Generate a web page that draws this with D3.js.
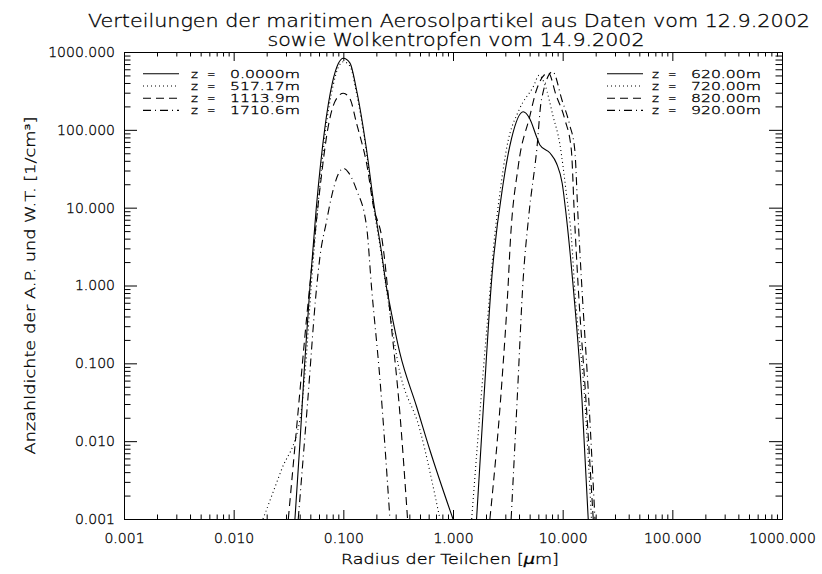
<!DOCTYPE html>
<html>
<head>
<meta charset="utf-8">
<script src="https://cdn.jsdelivr.net/npm/d3@7"></script>
<style>
  body { margin: 0; background: #fff; }
  text { font-family: "DejaVu Sans", sans-serif; font-weight: 200; fill: #000; stroke: #000; stroke-width: 0.3px; }
</style>
</head>
<body>
<svg id="chart" width="822" height="574"></svg>
<script>
// ---- text -------------------------------------------------------------
const titleLines = [
  "Verteilungen der maritimen Aerosolpartikel aus Daten vom 12.9.2002",
  "sowie Wolkentropfen vom 14.9.2002"
];
const xTitle = "Radius der Teilchen [";
const yTitle = "Anzahldichte der A.P. und W.T. [1/cm³]";

// ---- axis ticks -------------------------------------------------------
const xTickValues = [0.001, 0.01, 0.1, 1, 10, 100, 1000];
const xTickLabels = ["0.001", "0.010", "0.100", "1.000", "10.000", "100.000", "1000.000"];
const yTickValues = [0.001, 0.01, 0.1, 1, 10, 100, 1000];
const yTickLabels = ["0.001", "0.010", "0.100", "1.000", "10.000", "100.000", "1000.000"];

// ---- legend labels (heights) -----------------------------------------
const aerosolHeights = ["0.0000m", "517.17m", "1113.9m", "1710.6m"];
const dropHeights    = ["620.00m", "720.00m", "820.00m", "920.00m"];

// ---- aerosol particle spectra, 12.9.2002: [radius µm, number density 1/cm³]
const aerosol0000 = [[0.0362,0.001],[0.0403,0.01],[0.0444,0.1],[0.0497,1],[0.0567,10],[0.0675,100],
  [0.0794,400],[0.09,710],[0.1,830],[0.115,720],[0.132,325],[0.163,55],[0.1875,12.6],[0.2235,2.6],
  [0.248,0.93],[0.262,0.62],[0.328,0.135],[0.466,0.0277],[0.615,0.0077],[1.0,0.001]];
const aerosol0517 = [[0.0185,0.001],[0.0273,0.0043],[0.0402,0.0187],[0.0455,0.1],[0.051,1],[0.0585,10],
  [0.069,100],[0.081,380],[0.091,660],[0.1,750],[0.115,660],[0.131,310],[0.162,53],[0.186,12],
  [0.222,2.5],[0.25,0.8],[0.315,0.1],[0.5,0.0139],[0.76,0.001]];
const aerosol1114 = [[0.0315,0.001],[0.0382,0.0198],[0.0464,0.4],[0.053,2.6],[0.061,16.9],[0.0728,110],
  [0.085,240],[0.1,295],[0.115,250],[0.132,121],[0.163,37],[0.194,8.5],[0.205,6.8],[0.222,4.5],
  [0.235,2.5],[0.266,0.45],[0.328,0.0226],[0.385,0.001]];
const aerosol1711 = [[0.0388,0.001],[0.0471,0.03],[0.057,0.93],[0.0612,2.34],[0.07,6.5],[0.078,13.8],
  [0.09,27],[0.1,32],[0.112,28],[0.132,16.9],[0.163,5.7],[0.181,0.93],[0.216,0.061],[0.266,0.001]];

// ---- cloud droplet spectra, 14.9.2002 ---------------------------------
const drops620 = [[1.64,0.001],[1.9,0.03],[2.25,1.18],[2.87,20.6],[3.42,77.8],[4.36,171],[5.0,140],
  [5.78,81.6],[6.2,64],[7.7,50],[8.8,37],[9.9,20.6],[10.8,7.7],[12.4,1.06],[15.0,0.034],[17.1,0.001]];
const drops720 = [[1.48,0.001],[1.88,0.0745],[2.15,0.72],[2.33,2.85],[2.7,16.9],[3.1,60.5],[4.0,180],
  [5.4,359],[6.1,502],[6.9,377],[8.2,147],[9.4,67],[10.8,15.3],[12.0,4.2],[12.9,0.88],[15.9,0.034],[18.3,0.001]];
const drops820 = [[2.17,0.001],[2.8,0.0617],[3.2,1.18],[3.3,2.85],[3.93,33.6],[5.0,147],[5.77,325],
  [7.4,540],[8.7,280],[10.5,134],[12.0,55],[12.8,7.7],[13.8,1.06],[16.3,0.034],[19.0,0.001]];
const drops920 = [[3.39,0.001],[3.85,0.035],[4.36,1.18],[4.9,7.7],[5.8,55],[6.4,242],[8.1,560],
  [9.85,242],[11.6,115],[12.9,55],[13.8,7.7],[14.9,1.06],[17.3,0.034],[19.7,0.001]];

// ---- drawing ----------------------------------------------------------
const svg = d3.select("#chart");
const W = 822, H = 574;
svg.append("rect").attr("width", W).attr("height", H).attr("fill", "#fff");

const x = d3.scaleLog().domain([0.001, 1000]).range([124, 782]);
const y = d3.scaleLog().domain([0.001, 1000]).range([519, 52]);
const [x0, x1] = x.range();
const [y0, y1] = y.range();

// IDL-like line styles: solid, dotted, dashed, dash-dot
const dashes = [null, "1,3", "8,5", "8,4,1,4"];

function minorTicks(domain) {
  const lo = Math.round(Math.log10(domain[0])), hi = Math.round(Math.log10(domain[1]));
  const v = [];
  for (let e = lo; e < hi; e++) for (let k = 2; k <= 9; k++) v.push(k * Math.pow(10, e));
  return v;
}

const axes = svg.append("g").attr("class", "axes");

function addAxis(gen, tx, ty, values, size, labels, pad) {
  const a = gen.tickValues(values).tickSizeInner(size).tickSizeOuter(0)
    .tickPadding(pad || 3)
    .tickFormat(labels ? (d, i) => labels[i] : () => "");
  const g = axes.append("g").attr("transform", `translate(${tx},${ty})`).call(a);
  g.selectAll("text").style("font-family", '"DejaVu Sans", sans-serif')
    .style("font-weight", 200).style("font-size", "14px").attr("fill", "#000");
  g.selectAll("line,path").attr("stroke", "#000").attr("stroke-width", 1);
  return g;
}

// bottom / top
addAxis(d3.axisBottom(x), 0, y0, xTickValues, -9, xTickLabels, 14);
addAxis(d3.axisBottom(x), 0, y0, minorTicks(x.domain()), -4.5, null);
addAxis(d3.axisTop(x), 0, y1, xTickValues, -9, null);
addAxis(d3.axisTop(x), 0, y1, minorTicks(x.domain()), -4.5, null);
// left / right
addAxis(d3.axisLeft(y), x0, 0, yTickValues, -13, yTickLabels, 9);
addAxis(d3.axisLeft(y), x0, 0, minorTicks(y.domain()), -6.5, null);
addAxis(d3.axisRight(y), x1, 0, yTickValues, -13, null);
addAxis(d3.axisRight(y), x1, 0, minorTicks(y.domain()), -6.5, null);
axes.selectAll("text").style("stroke", "#000").style("stroke-width", "0.3px");

// curves
svg.append("clipPath").attr("id", "plotArea").append("rect")
  .attr("x", x0).attr("y", y1).attr("width", x1 - x0).attr("height", y0 - y1);

const line = d3.line().x(d => x(d[0])).y(d => y(d[1])).curve(d3.curveMonotoneX);
const aerosolSeries = [aerosol0000, aerosol0517, aerosol1114, aerosol1711];
const dropSeries = [drops620, drops720, drops820, drops920];

const curves = svg.append("g").attr("clip-path", "url(#plotArea)");
[aerosolSeries, dropSeries].forEach(group => {
  group.forEach((s, i) => {
    curves.append("path").datum(s).attr("d", line)
      .attr("fill", "none").attr("stroke", "#000").attr("stroke-width", 1.1)
      .attr("stroke-dasharray", dashes[i]);
  });
});

// legends
function legend(labels, lx, tx) {
  const g = svg.append("g").style("font-size", "10.3px");
  labels.forEach((lab, i) => {
    const yy = 73.8 + i * 12.2;
    g.append("line").attr("x1", lx).attr("x2", lx + 36).attr("y1", yy).attr("y2", yy)
      .attr("stroke", "#000").attr("stroke-width", 1.1).attr("stroke-dasharray", dashes[i]);
    g.append("text").attr("x", tx).attr("y", yy + 4).attr("textLength", 7)
      .attr("lengthAdjust", "spacingAndGlyphs").text("z");
    g.append("text").attr("x", tx + 16).attr("y", yy + 4).attr("textLength", 8.5)
      .attr("lengthAdjust", "spacingAndGlyphs").text("=");
    g.append("text").attr("x", tx + 39).attr("y", yy + 4)
      .attr("textLength", 70).attr("lengthAdjust", "spacingAndGlyphs").text(lab);
  });
}
legend(aerosolHeights, 143, 191);
legend(dropHeights, 607, 652);

// titles
svg.append("text").attr("x", 449).attr("y", 27).attr("text-anchor", "middle")
  .style("font-size", "18px").attr("textLength", 722).attr("lengthAdjust", "spacingAndGlyphs")
  .text(titleLines[0]);
svg.append("text").attr("x", 456).attr("y", 46).attr("text-anchor", "middle")
  .style("font-size", "18px").attr("textLength", 377).attr("lengthAdjust", "spacingAndGlyphs")
  .text(titleLines[1]);

const xt = svg.append("text").attr("x", (x0 + x1) / 2 - 3).attr("y", 564).attr("text-anchor", "middle")
  .style("font-size", "14px").attr("textLength", 218).attr("lengthAdjust", "spacingAndGlyphs");
xt.append("tspan").text(xTitle);
xt.append("tspan").style("font-style", "italic").text("µ");
xt.append("tspan").text("m]");

svg.append("text").attr("transform", `translate(35,${(y0 + y1) / 2}) rotate(-90)`)
  .attr("text-anchor", "middle").style("font-size", "14px")
  .attr("textLength", 338).attr("lengthAdjust", "spacingAndGlyphs")
  .text(yTitle);
</script>
</body>
</html>
